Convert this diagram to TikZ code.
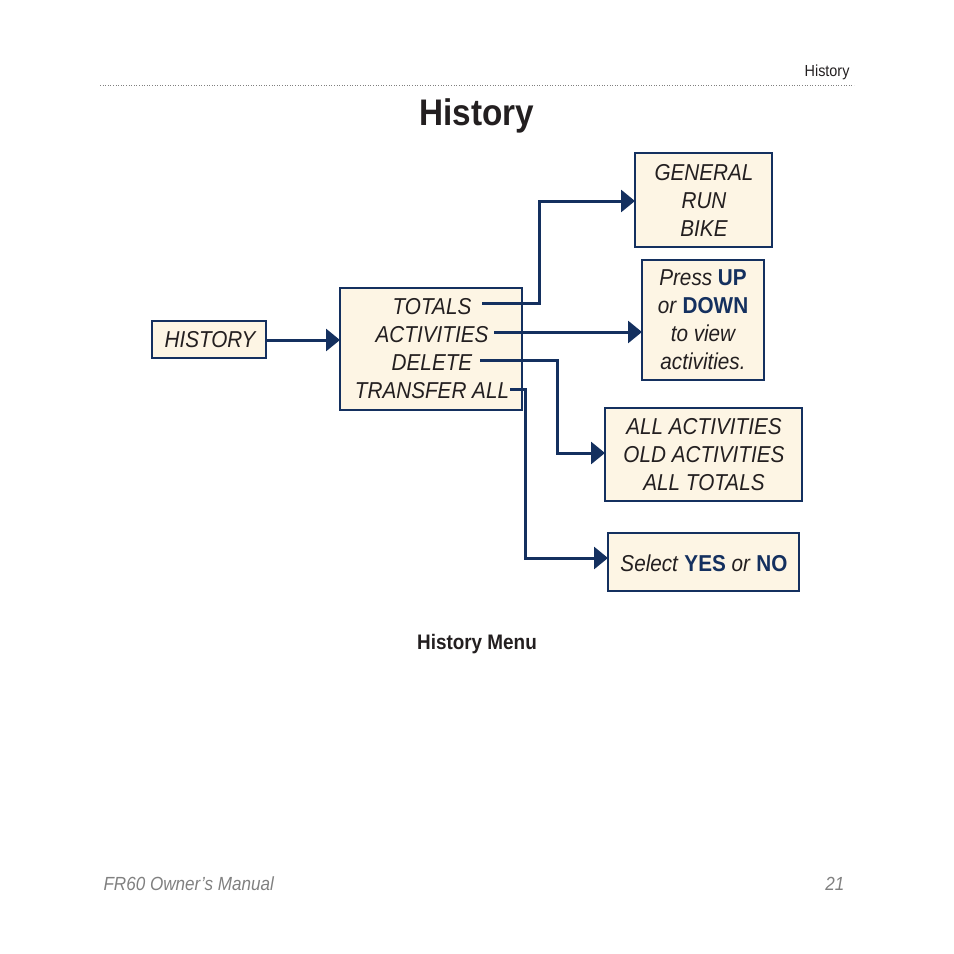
\documentclass[tikz,border=0pt]{standalone}
\usepackage{fontspec}
\setmainfont{Liberation Sans}[FakeStretch=0.9]
\usetikzlibrary{arrows.meta}
\definecolor{navy}{HTML}{14305F}
\definecolor{boxfill}{HTML}{FDF5E4}
\definecolor{txt}{HTML}{231F20}
\begin{document}
\begin{tikzpicture}[x=1pt,y=-1pt,
  mbox/.style={draw=navy,line width=2.6pt,fill=boxfill,inner sep=0pt},
  conn/.style={draw=navy,line width=3pt,-{Triangle[length=14pt,width=22pt]}},
  lbl/.style={font=\fontsize{23}{28}\selectfont\itshape,text=txt,align=center,inner sep=0pt}]
\useasboundingbox (0,0) rectangle (954,954);
\node[anchor=east,font=\fontsize{16}{18}\selectfont,text=txt] (hdr) at (853,72) {History};
\draw[gray,line width=0.6pt,dotted] (100,85) -- (854,85);
\node[font=\fontsize{37}{40}\selectfont\bfseries,text=txt] (title) at (477,116) {History};
% boxes
\path[mbox] (152,321) rectangle (266,358);
\path[mbox] (340,288) rectangle (522,410);
\path[mbox] (635,153) rectangle (772,247);
\path[mbox] (642,260) rectangle (764,380);
\path[mbox] (605,408) rectangle (802,501);
\path[mbox] (608,533) rectangle (799,591);
\coordinate (hR) at (266,340);
\coordinate (mL) at (340,340);
\node[lbl] (hist) at (210,340) {HISTORY};
\node[lbl] (tot) at (432,307) {TOTALS};
\node[lbl] (act) at (432,335) {ACTIVITIES};
\node[lbl] (del) at (432,363) {DELETE};
\node[lbl] (tra) at (432,391) {TRANSFER ALL};
\node[lbl] (gen) at (704,200) {GENERAL\\RUN\\BIKE};
\node[lbl] (press) at (703,320) {Press \textup{\bfseries\color{navy}UP}\\or \textup{\bfseries\color{navy}DOWN}\\to view\\activities.};
\node[lbl] (allact) at (704,455) {ALL ACTIVITIES\\OLD ACTIVITIES\\ALL TOTALS};
\node[lbl] (sel) at (704,563) {Select \textup{\bfseries\color{navy}YES} or \textup{\bfseries\color{navy}NO}};
\coordinate (gL) at (635,201);
\coordinate (pL) at (642,332);
\coordinate (aL) at (605,453);
\coordinate (sL) at (608,558);
\draw[conn] (hR) -- (mL);
\draw[conn] (482,303) -- (539,303) -- (539,201) -- (gL);
\draw[conn] (494,332) -- (pL);
\draw[conn] (480,360) -- (557,360) -- (557,453) -- (aL);
\draw[conn] (510,389) -- (525,389) -- (525,558) -- (sL);
\node[font=\fontsize{21}{24}\selectfont\bfseries,text=txt] (cap) at (477,644) {History Menu};
\node[anchor=west,font=\fontsize{19}{22}\selectfont\itshape,text=gray] (foot) at (100,884) {FR60 Owner’s Manual};
\node[anchor=east,font=\fontsize{19}{22}\selectfont\itshape,text=gray] (pg) at (848,884) {21};
\end{tikzpicture}
\end{document}
